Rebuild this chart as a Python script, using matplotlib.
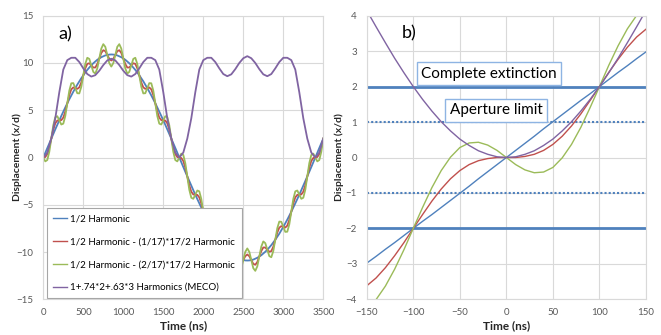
import matplotlib.pyplot as plt
import numpy as np

plt.rcParams['font.family'] = ['Lato', 'DejaVu Sans']

# ---- panel a) data ----
t_a = np.arange(0, 3501, 25)      # ns, sample times for the harmonic curves
t_a_meco = np.arange(0, 3501, 50)  # ns, sample times for the MECO curve

half = [0.00, 0.50, 1.01, 1.51, 2.00, 2.50, 2.98, 3.46, 3.94, 4.40, 4.86, 5.30, 5.74, 6.16, 6.57, 6.96,
        7.34, 7.71, 8.06, 8.39, 8.70, 8.99, 9.27, 9.52, 9.76, 9.97, 10.16, 10.34, 10.48, 10.61, 10.71, 10.80,
        10.85, 10.89, 10.90, 10.89, 10.85, 10.80, 10.71, 10.61, 10.48, 10.34, 10.16, 9.97, 9.76, 9.52, 9.27,
        8.99, 8.70, 8.39, 8.06, 7.71, 7.34, 6.96, 6.57, 6.16, 5.74, 5.30, 4.86, 4.40, 3.94, 3.46, 2.98, 2.50,
        2.00, 1.51, 1.01, 0.50, 0.00,
        -0.50, -1.01, -1.51, -2.00, -2.50, -2.98, -3.46, -3.94, -4.40, -4.86, -5.30, -5.74, -6.16, -6.57,
        -6.96, -7.34, -7.71, -8.06, -8.39, -8.70, -8.99, -9.27, -9.52, -9.76, -9.97, -10.16, -10.34, -10.48,
        -10.61, -10.71, -10.80, -10.85, -10.89, -10.90, -10.89, -10.85, -10.80, -10.71, -10.61, -10.48,
        -10.34, -10.16, -9.97, -9.76, -9.52, -9.27, -8.99, -8.70, -8.39, -8.06, -7.71, -7.34, -6.96, -6.57,
        -6.16, -5.74, -5.30, -4.86, -4.40, -3.94, -3.46, -2.98, -2.50, -2.00, -1.51, -1.01, -0.50, 0.00,
        0.50, 1.01, 1.51, 2.00]

minus1 = [0.00, 0.05, 0.37, 1.06, 2.00, 2.95, 3.62, 3.91, 3.94, 3.95, 4.22, 4.85, 5.74, 6.61, 7.21, 7.41,
          7.34, 7.26, 7.42, 7.94, 8.70, 9.44, 9.91, 9.97, 9.76, 9.52, 9.52, 9.89, 10.48, 11.06, 11.35, 11.25,
          10.85, 10.44, 10.26, 10.44, 10.85, 11.25, 11.35, 11.06, 10.48, 9.89, 9.52, 9.52, 9.76, 9.97, 9.91,
          9.44, 8.70, 7.94, 7.42, 7.26, 7.34, 7.41, 7.21, 6.61, 5.74, 4.85, 4.22, 3.95, 3.94, 3.91, 3.62, 2.95,
          2.00, 1.06, 0.37, 0.05, 0.00,
          -0.05, -0.37, -1.06, -2.00, -2.95, -3.62, -3.91, -3.94, -3.95, -4.22, -4.85, -5.74, -6.61, -7.21,
          -7.41, -7.34, -7.26, -7.42, -7.94, -8.70, -9.44, -9.91, -9.97, -9.76, -9.52, -9.52, -9.89, -10.48,
          -11.06, -11.35, -11.25, -10.85, -10.44, -10.26, -10.44, -10.85, -11.25, -11.35, -11.06, -10.48,
          -9.89, -9.52, -9.52, -9.76, -9.97, -9.91, -9.44, -8.70, -7.94, -7.42, -7.26, -7.34, -7.41, -7.21,
          -6.61, -5.74, -4.85, -4.22, -3.95, -3.94, -3.91, -3.62, -2.95, -2.00, -1.06, -0.37, -0.05, 0.00,
          0.05, 0.37, 1.06, 2.00]

minus2 = [0.00, -0.41, -0.27, 0.60, 2.00, 3.41, 4.26, 4.37, 3.94, 3.49, 3.58, 4.39, 5.74, 7.07, 7.85, 7.87,
          7.34, 6.80, 6.78, 7.48, 8.70, 9.90, 10.55, 10.43, 9.76, 9.06, 8.88, 9.43, 10.48, 11.52, 11.99, 11.71,
          10.85, 9.98, 9.62, 9.98, 10.85, 11.71, 11.99, 11.52, 10.48, 9.43, 8.88, 9.06, 9.76, 10.43, 10.55,
          9.90, 8.70, 7.48, 6.78, 6.80, 7.34, 7.87, 7.85, 7.07, 5.74, 4.39, 3.58, 3.49, 3.94, 4.37, 4.26, 3.41,
          2.00, 0.60, -0.27, -0.41, 0.00,
          0.41, 0.27, -0.60, -2.00, -3.41, -4.26, -4.37, -3.94, -3.49, -3.58, -4.39, -5.74, -7.07, -7.85,
          -7.87, -7.34, -6.80, -6.78, -7.48, -8.70, -9.90, -10.55, -10.43, -9.76, -9.06, -8.88, -9.43, -10.48,
          -11.52, -11.99, -11.71, -10.85, -9.98, -9.62, -9.98, -10.85, -11.71, -11.99, -11.52, -10.48, -9.43,
          -8.88, -9.06, -9.76, -10.43, -10.55, -9.90, -8.70, -7.48, -6.78, -6.80, -7.34, -7.87, -7.85, -7.07,
          -5.74, -4.39, -3.58, -3.49, -3.94, -4.37, -4.26, -3.41, -2.00, -0.60, 0.27, 0.41, 0.00,
          -0.41, -0.27, 0.60, 2.00]

meco = [0.00, 0.52, 2.00, 4.15, 6.90, 9.30, 10.30, 10.55, 10.55, 10.10, 9.43, 8.83, 8.56, 8.71, 9.18, 9.78,
        10.27, 10.45, 10.27, 9.78, 9.18, 8.71, 8.56, 8.83, 9.43, 10.10, 10.55, 10.55, 10.30, 9.30, 6.90, 4.15,
        2.00, 0.52, 0.00, 0.52, 2.00, 4.15, 6.90, 9.30, 10.30, 10.55, 10.55, 10.10, 9.43, 8.83, 8.60, 8.80,
        9.35, 10.00, 10.50, 10.72, 10.50, 10.00, 9.35, 8.80, 8.60, 8.83, 9.43, 10.10, 10.55, 10.55, 10.30,
        9.30, 6.90, 4.15, 2.00, 0.52, 0.00, 0.52, 2.00]

# ---- panel b) data, zoom around t = 0 ----
t_b = np.arange(-150, 151, 10)
half_b = [-2.98, -2.79, -2.59, -2.40, -2.20, -2.00, -1.80, -1.61, -1.41, -1.21, -1.01, -0.81, -0.60, -0.40,
          -0.20, 0.00, 0.20, 0.40, 0.60, 0.81, 1.01, 1.21, 1.41, 1.61, 1.80, 2.00, 2.20, 2.40, 2.59, 2.79, 2.98]
minus1_b = [-3.62, -3.40, -3.11, -2.77, -2.40, -2.00, -1.61, -1.23, -0.89, -0.60, -0.37, -0.20, -0.09, -0.03,
            0.00, 0.00, 0.00, 0.03, 0.09, 0.20, 0.37, 0.60, 0.89, 1.23, 1.61, 2.00, 2.40, 2.77, 3.11, 3.40, 3.62]
minus2_b = [-4.27, -4.01, -3.63, -3.15, -2.60, -2.00, -1.41, -0.85, -0.37, 0.01, 0.28, 0.41, 0.43, 0.35, 0.20,
            0.00, -0.20, -0.35, -0.43, -0.41, -0.28, -0.01, 0.37, 0.85, 1.41, 2.00, 2.60, 3.15, 3.63, 4.01, 4.27]
meco_b = [4.15, 3.69, 3.24, 2.80, 2.39, 2.00, 1.64, 1.31, 1.01, 0.75, 0.52, 0.34, 0.19, 0.09, 0.02, 0.00,
          0.02, 0.09, 0.19, 0.34, 0.52, 0.75, 1.01, 1.31, 1.64, 2.00, 2.39, 2.80, 3.24, 3.69, 4.15]
extinction = [2, -2]
aperture = [1, -1]

labels = ['1/2 Harmonic',
          '1/2 Harmonic - (1/17)*17/2 Harmonic',
          '1/2 Harmonic - (2/17)*17/2 Harmonic',
          '1+.74*2+.63*3 Harmonics (MECO)']
colors = ['#4F81BD', '#C0504D', '#9BBB59', '#8064A2']
grid_c = '#D9D9D9'
tick_c = '#595959'

fig = plt.figure(figsize=(6.61, 3.35), dpi=100)
ax1 = fig.add_axes([0.0655, 0.1066, 0.4236, 0.8465])
ax2 = fig.add_axes([0.5548, 0.1066, 0.4225, 0.8465])


def style(ax):
    ax.grid(True, color=grid_c, lw=0.8)
    ax.set_axisbelow(True)
    for s in ax.spines.values():
        s.set_color(grid_c)
        s.set_linewidth(0.8)
    ax.tick_params(length=0, labelsize=7, labelcolor=tick_c)
    ax.tick_params(axis='y', pad=7)
    ax.tick_params(axis='x', pad=6)
    ax.set_xlabel('Time (ns)', fontsize=8.5, fontweight='bold', color='#262626')
    ax.set_ylabel('Displacement (x/d)', fontsize=7.5, fontweight='bold', color='#262626')
    ax.xaxis.set_label_coords(0.5, -0.075)
    ax.yaxis.set_label_coords(-0.075, 0.5)


# a)
ax1.plot(t_a, half, color=colors[0], lw=1.3, label=labels[0])
ax1.plot(t_a, minus1, color=colors[1], lw=1.3, label=labels[1])
ax1.plot(t_a, minus2, color=colors[2], lw=1.3, label=labels[2])
ax1.plot(t_a_meco, meco, color=colors[3], lw=1.3, label=labels[3])
ax1.set_xlim(0, 3500)
ax1.set_ylim(-15, 15)
ax1.set_xticks(np.arange(0, 3501, 500))
ax1.set_yticks(np.arange(-15, 16, 5))
style(ax1)
ax1.text(271, 13.06, 'a)', fontsize=13, ha='center', va='center')
leg = ax1.legend(loc='lower left', bbox_to_anchor=(0.012, 0.0035), fontsize=7, frameon=True,
                 fancybox=False, framealpha=1, edgecolor='#A6A6A6', labelspacing=1.42,
                 handlelength=1.4, handletextpad=0.4, borderpad=0.65, borderaxespad=0)
leg.get_frame().set_linewidth(0.8)
for h in leg.get_lines():
    h.set_linewidth(1.0)

# b)
for y in extinction:
    ax2.axhline(y, color=colors[0], lw=2)
for y in aperture:
    ax2.axhline(y, color=colors[0], lw=1.5, ls=(0, (1, 1)))
ax2.plot(t_b, half_b, color=colors[0], lw=1)
ax2.plot(t_b, minus1_b, color=colors[1], lw=1)
ax2.plot(t_b, minus2_b, color=colors[2], lw=1)
ax2.plot(t_b, meco_b, color=colors[3], lw=1)
ax2.set_xlim(-150, 150)
ax2.set_ylim(-4, 4)
ax2.set_xticks(np.arange(-150, 151, 50))
ax2.set_yticks(np.arange(-4, 5, 1))
style(ax2)
ax2.yaxis.set_label_coords(-0.082, 0.5)
ax2.text(-104, 3.5, 'b)', fontsize=13, ha='center', va='center')
box = dict(boxstyle='square,pad=0.3', fc='white', ec='#8EB4E3', lw=1)
ax2.text(-18.6, 2.36, 'Complete extinction', fontsize=11, ha='center', va='center', bbox=box)
ax2.text(-10.8, 1.33, 'Aperture limit', fontsize=11, ha='center', va='center', bbox=box)

fig.savefig('out.png', dpi=100)
